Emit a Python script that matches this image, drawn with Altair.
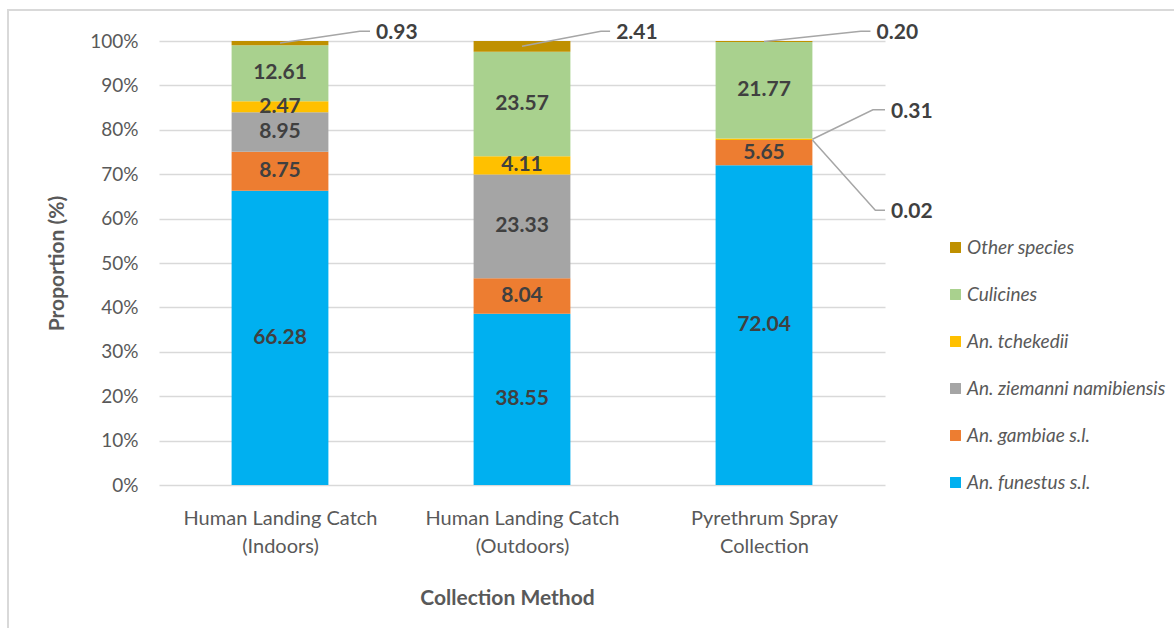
import json
import altair as alt
import pandas as pd

# Collection methods (x categories) and their two-line axis labels
methods = [
    "Human Landing Catch (Indoors)",
    "Human Landing Catch (Outdoors)",
    "Pyrethrum Spray Collection",
]
method_lines = [
    ["Human Landing Catch", "(Indoors)"],
    ["Human Landing Catch", "(Outdoors)"],
    ["Pyrethrum Spray", "Collection"],
]

# Species, bottom of the stack first
species = [
    "An. funestus s.l.",
    "An. gambiae s.l.",
    "An. ziemanni namibiensis",
    "An. tchekedii",
    "Culicines",
    "Other species",
]
species_colors = ["#00B0F0", "#ED7D31", "#A5A5A5", "#FFC000", "#A9D18E", "#BF9000"]

# Proportions (%) per species, one value per collection method
funestus = [66.28, 38.55, 72.04]
gambiae = [8.75, 8.04, 5.65]
ziemanni = [8.95, 23.33, 0.02]
tchekedii = [2.47, 4.11, 0.31]
culicines = [12.61, 23.57, 21.77]
other = [0.93, 2.41, 0.20]
series = [funestus, gambiae, ziemanni, tchekedii, culicines, other]

# Small segments labelled outside the bar with a leader line
callout_method = [0, 1, 2, 2, 2]
callout_species = ["Other species", "Other species", "Other species",
                   "An. tchekedii", "An. ziemanni namibiensis"]
callout_anchor_dx = [0.0, 0.0, 0.0, 0.2, 0.2]
callout_elbow_dx = [0.33, 0.326, 0.40, 0.45, 0.46]
callout_end_dx = [0.372, 0.364, 0.44, 0.50, 0.50]
callout_label_y = [102.2, 102.2, 102.2, 84.5, 61.9]

BAR_HALF = 0.2
FONT = "Lato"
TEXT_GREY = "#595959"
LABEL_GREY = "#404040"

# Stacked segments
rows = []
for m_i, m in enumerate(methods):
    base = 0.0
    for s_i, s in enumerate(species):
        v = series[s_i][m_i]
        rows.append({
            "method": m, "pos": m_i, "species": s, "value": v,
            "y0": base, "y1": base + v, "ymid": base + v / 2,
            "xl": m_i - BAR_HALF, "xr": m_i + BAR_HALF,
            "label": f"{v:.2f}",
        })
        base += v
seg = pd.DataFrame(rows)

callout_keys = set(zip(callout_method, callout_species))
seg["inside"] = [(p, s) not in callout_keys for p, s in zip(seg["pos"], seg["species"])]

# Leader lines and their labels
line_rows, text_rows = [], []
for c in range(len(callout_method)):
    r = seg[(seg["pos"] == callout_method[c]) & (seg["species"] == callout_species[c])].iloc[0]
    p = callout_method[c]
    pts = [
        (p + callout_anchor_dx[c], r["ymid"]),
        (p + callout_elbow_dx[c], callout_label_y[c]),
        (p + callout_end_dx[c], callout_label_y[c]),
    ]
    for k, (x, y) in enumerate(pts):
        line_rows.append({"cid": c, "k": k, "x": x, "y": y})
    text_rows.append({"x": p + callout_end_dx[c] + 0.025, "y": callout_label_y[c], "label": r["label"]})
lines = pd.DataFrame(line_rows)
texts = pd.DataFrame(text_rows)

# Two-line category labels for the quantitative x axis
label_expr = ""
for i, ln in enumerate(method_lines[:-1]):
    label_expr += f"datum.value == {i} ? {json.dumps(ln)} : "
label_expr += json.dumps(method_lines[-1])

x_scale = alt.Scale(domain=[-0.5, 2.5], nice=False, zero=False)
y_scale = alt.Scale(domain=[0, 100], nice=False)

legend_order = list(reversed(species))
legend_colors = list(reversed(species_colors))

bars = alt.Chart(seg).mark_bar(stroke=None).encode(
    x=alt.X("xl:Q", scale=x_scale, axis=alt.Axis(
        values=[0, 1, 2], labelExpr=label_expr, grid=False, ticks=False, domain=False,
        labelFont=FONT, labelFontSize=20, labelColor=TEXT_GREY, labelPadding=23,
        labelLineHeight=28, labelAlign="center", labelLimit=0,
        title="Collection Method", titleFont=FONT, titleFontSize=21, titleFontWeight="bold",
        titleColor=TEXT_GREY, titlePadding=31, titleX=348)),
    x2="xr:Q",
    y=alt.Y("y0:Q", scale=y_scale, axis=alt.Axis(
        values=list(range(0, 101, 10)), labelExpr="datum.value + '%'",
        grid=True, gridColor="#D9D9D9", gridWidth=1.5, ticks=False, domain=False,
        labelFont=FONT, labelFontSize=19, labelColor=TEXT_GREY, labelPadding=21,
        title="Proportion (%)", titleFont=FONT, titleFontSize=21, titleFontWeight="bold",
        titleColor=TEXT_GREY, titlePadding=22)),
    y2="y1:Q",
    color=alt.Color("species:N", scale=alt.Scale(domain=legend_order, range=legend_colors),
                    legend=alt.Legend(
                        title=None, orient="none", legendX=787, legendY=197,
                        symbolType="square", symbolSize=120, symbolStrokeWidth=0,
                        labelFont=FONT, labelFontSize=19, labelFontStyle="italic",
                        labelColor=TEXT_GREY, rowPadding=27, padding=0, labelOffset=2,
                        labelLimit=0)),
)

seg_labels = alt.Chart(seg).transform_filter("datum.inside").mark_text(
    font=FONT, fontSize=21, fontWeight="bold", color=LABEL_GREY, baseline="middle"
).encode(
    x=alt.X("pos:Q", scale=x_scale),
    y=alt.Y("ymid:Q", scale=y_scale),
    text="label:N",
)

leaders = alt.Chart(lines).mark_line(color="#A6A6A6", strokeWidth=1.5).encode(
    x=alt.X("x:Q", scale=x_scale),
    y=alt.Y("y:Q", scale=y_scale),
    detail="cid:N",
    order="k:Q",
)

leader_labels = alt.Chart(texts).mark_text(
    font=FONT, fontSize=21, fontWeight="bold", color=LABEL_GREY, align="left",
    baseline="middle", dy=2
).encode(
    x=alt.X("x:Q", scale=x_scale),
    y=alt.Y("y:Q", scale=y_scale),
    text="label:N",
)

# Light frame around the chart area
frame = alt.Chart(alt.Data(values=[{}])).mark_rect(
    fill=None, stroke="#D9D9D9", strokeWidth=2
).encode(
    x=alt.value(-151), x2=alt.value(1060), y=alt.value(-31), y2=alt.value(620),
)

chart = alt.layer(frame, bars, seg_labels, leaders, leader_labels).properties(
    width=726, height=444,
    padding={"left": 159, "top": 41, "right": 289, "bottom": 143},
    autosize=alt.AutoSizeParams(type="none"),
    background="white",
).configure_view(stroke=None)

chart.save("out.html", embed_options={"renderer": "svg", "actions": False})
